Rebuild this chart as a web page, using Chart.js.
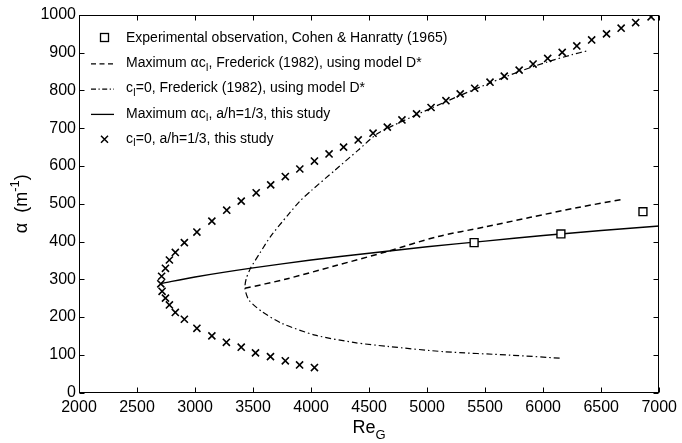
<!DOCTYPE html>
<html>
<head>
<meta charset="utf-8">
<script src="https://cdn.jsdelivr.net/npm/chart.js@4"></script>
<style>
  html, body { margin: 0; padding: 0; background: #fff; }
</style>
</head>
<body>
<canvas id="alphachart" width="682" height="443"></canvas>
<script>
// Experimental observation, Cohen & Hanratty (1965)
const expRe = [5405, 6153, 6860];
const expAlpha = [397, 420, 479];

// Maximum alpha*ci, Frederick (1982), model D*
const fredMaxRe = [3430, 3778, 4200, 4650, 5091, 5490, 5890, 6300, 6689];
const fredMaxAlpha = [276, 300, 335, 373, 413, 438, 464, 490, 512];

// ci = 0, Frederick (1982), model D*  (lower branch, apex, upper branch)
const fredZeroRe = [6142, 5718, 5148, 4663, 4378, 4035, 3749, 3578, 3464, 3430,
  3440, 3478, 3560, 3650, 3800, 3907, 4006, 4206, 4406, 4577, 4783, 5034, 5285,
  5542, 5793, 6039, 6250, 6380];
const fredZeroAlpha = [91, 99, 108, 122, 132, 152, 183, 214, 245, 275,
  300, 329, 370, 413, 470, 508, 536, 589, 642, 687, 718, 753, 787,
  820, 850, 876, 895, 905];

// Maximum alpha*ci, a/h = 1/3, this study
const studyMaxRe = [2708, 3000, 3500, 4000, 4500, 5000, 5500, 6000, 6500, 7000];
const studyMaxAlpha = [289, 306, 330, 351, 369, 386, 401, 416, 429, 441];

// ci = 0, a/h = 1/3, this study
const studyZeroRe = [4029, 3901, 3778, 3650, 3521, 3398, 3270, 3145, 3016, 2908,
  2830, 2779, 2745, 2716, 2705, 2712, 2745, 2779, 2830, 2908, 3016, 3145, 3273,
  3398, 3527, 3652, 3778, 3903, 4029, 4155, 4280, 4406, 4534, 4657, 4783, 4909,
  5034, 5162, 5285, 5410, 5542, 5665, 5793, 5913, 6039, 6164, 6290, 6418, 6546,
  6672, 6797, 6930];
const studyZeroAlpha = [66, 73, 84, 95, 105, 120, 133, 150, 170, 194,
  212, 232, 250, 268, 288, 308, 329, 351, 371, 397, 425, 454, 483,
  507, 529, 550, 572, 592, 613, 632, 650, 669, 687, 703, 722, 738,
  755, 773, 791, 806, 822, 838, 854, 870, 885, 901, 918, 934, 950,
  965, 980, 995];

const xTicks = [2000, 2500, 3000, 3500, 4000, 4500, 5000, 5500, 6000, 6500, 7000];
const yTicks = [0, 100, 200, 300, 400, 500, 600, 700, 800, 900, 1000];

const FONT = '"Liberation Sans", Arial, sans-serif';

function pts(xs, ys) {
  return xs.map((v, i) => ({ x: v, y: ys[i] }));
}

// legend rows: symbol kind + text pieces (sub = subscript)
const legendRows = [
  { sym: 'square', parts: [['Experimental observation, Cohen & Hanratty (1965)']] },
  { sym: 'dash', parts: [['Maximum \u03B1c'], ['I', 'sub'], [', Frederick (1982), using model D*']] },
  { sym: 'dashdot', parts: [['c'], ['I', 'sub'], ['=0, Frederick (1982), using model D*']] },
  { sym: 'solid', parts: [['Maximum \u03B1c'], ['I', 'sub'], [', a/h=1/3, this study']] },
  { sym: 'cross', parts: [['c'], ['I', 'sub'], ['=0, a/h=1/3, this study']] },
];

function drawRich(ctx, parts, x, y, size, subSize) {
  let cx = x;
  parts.forEach(([t, kind]) => {
    if (kind === 'sub') {
      ctx.font = subSize + 'px ' + FONT;
      ctx.fillText(t, cx, y + size * 0.32);
    } else if (kind === 'sup') {
      ctx.font = subSize + 'px ' + FONT;
      ctx.fillText(t, cx, y - size * 0.45);
    } else {
      ctx.font = size + 'px ' + FONT;
      ctx.fillText(t, cx, y);
    }
    cx += ctx.measureText(t).width;
  });
  return cx - x;
}

function richWidth(ctx, parts, size, subSize) {
  let w = 0;
  parts.forEach(([t, kind]) => {
    ctx.font = (kind ? subSize : size) + 'px ' + FONT;
    w += ctx.measureText(t).width;
  });
  return w;
}

const framePlugin = {
  id: 'frame',
  afterDraw(chart) {
    const { ctx, chartArea: a, scales: { x, y } } = chart;
    ctx.save();
    ctx.strokeStyle = '#000';
    ctx.fillStyle = '#000';
    ctx.lineWidth = 1;
    ctx.setLineDash([]);

    // box with inward ticks on all four sides
    const L = Math.round(a.left) + 0.5, R = Math.round(a.right) - 0.5;
    const T = Math.round(a.top) + 0.5, B = Math.round(a.bottom) - 0.5;
    ctx.strokeRect(L, T, R - L, B - T);
    ctx.beginPath();
    xTicks.forEach(v => {
      const px = Math.round(x.getPixelForValue(v)) + 0.5;
      ctx.moveTo(px, B); ctx.lineTo(px, B - 5);
      ctx.moveTo(px, T); ctx.lineTo(px, T + 5);
    });
    yTicks.forEach(v => {
      const py = Math.round(y.getPixelForValue(v)) + 0.5;
      ctx.moveTo(L, py); ctx.lineTo(L + 5, py);
      ctx.moveTo(R, py); ctx.lineTo(R - 5, py);
    });
    ctx.stroke();

    // axis titles
    ctx.textBaseline = 'alphabetic';
    ctx.textAlign = 'left';
    const xt = [['Re'], ['G', 'sub']];
    const xw = richWidth(ctx, xt, 18, 13);
    drawRich(ctx, xt, (a.left + a.right) / 2 - xw / 2, 433, 18, 13);

    const yt = [['\u03B1  (m'], ['-1', 'sup'], [')']];
    const yw = richWidth(ctx, yt, 18, 13);
    ctx.save();
    ctx.translate(27, (a.top + a.bottom) / 2);
    ctx.rotate(-Math.PI / 2);
    drawRich(ctx, yt, -yw / 2, 0, 18, 13);
    ctx.restore();

    // legend
    legendRows.forEach((row, i) => {
      const ry = 38 + i * 25.3;
      ctx.save();
      ctx.lineWidth = 1.3;
      ctx.beginPath();
      if (row.sym === 'square') {
        ctx.strokeRect(100.5, ry - 4.5, 8, 8);
      } else if (row.sym === 'cross') {
        ctx.lineWidth = 1.5;
        ctx.moveTo(101, ry - 3.5); ctx.lineTo(108, ry + 3.5);
        ctx.moveTo(108, ry - 3.5); ctx.lineTo(101, ry + 3.5);
        ctx.stroke();
      } else {
        if (row.sym === 'dash') ctx.setLineDash([5, 3.5]);
        if (row.sym === 'dashdot') { ctx.setLineDash([5, 2.5, 1.2, 2.5]); ctx.lineWidth = 1.1; }
        ctx.moveTo(91, ry + 0.5); ctx.lineTo(114, ry + 0.5);
        ctx.stroke();
      }
      ctx.restore();
      ctx.textBaseline = 'middle';
      drawRich(ctx, row.parts, 126, ry, 14, 10);
    });
    ctx.restore();
  }
};

const ctx = document.getElementById('alphachart').getContext('2d');

const alphachart = new Chart(ctx, {
  type: 'scatter',
  data: {
    datasets: [{
      label: 'Experimental observation, Cohen & Hanratty (1965)',
      data: pts(expRe, expAlpha),
      pointStyle: 'rect',
      pointRadius: 5.6,
      borderColor: '#000',
      backgroundColor: '#fff',
      borderWidth: 1.4,
      showLine: false,
    }, {
      label: 'Maximum \u03B1ci, a/h=1/3, this study',
      data: pts(studyMaxRe, studyMaxAlpha),
      showLine: true,
      borderColor: '#000',
      borderWidth: 1.4,
      pointRadius: 0,
      tension: 0.3,
    }, {
      label: 'Maximum \u03B1ci, Frederick (1982), using model D*',
      data: pts(fredMaxRe, fredMaxAlpha),
      showLine: true,
      borderColor: '#000',
      borderWidth: 1.5,
      borderDash: [6, 4],
      pointRadius: 0,
      tension: 0.3,
    }, {
      label: 'ci=0, Frederick (1982), using model D*',
      data: pts(fredZeroRe, fredZeroAlpha),
      showLine: true,
      borderColor: '#000',
      borderWidth: 1.2,
      borderDash: [6, 3, 1.5, 3],
      pointRadius: 0,
      tension: 0.25,
    }, {
      label: 'ci=0, a/h=1/3, this study',
      data: pts(studyZeroRe, studyZeroAlpha),
      pointStyle: 'crossRot',
      pointRadius: 5,
      borderColor: '#000',
      borderWidth: 1.6,
      showLine: false,
    }]
  },
  options: {
    responsive: false,
    animation: false,
    devicePixelRatio: 1,
    events: [],
    layout: { padding: { top: 15, right: 19, left: 0, bottom: 0 } },
    plugins: { legend: { display: false }, tooltip: { enabled: false } },
    scales: {
      x: {
        type: 'linear',
        min: 2000,
        max: 7000,
        afterBuildTicks: s => { s.ticks = xTicks.map(v => ({ value: v })); },
        afterFit: s => { s.height = 50.5; },
        grid: { display: false, drawTicks: false },
        border: { display: false },
        ticks: {
          color: '#000',
          font: { family: FONT, size: 16 },
          padding: 5,
          maxRotation: 0,
          autoSkip: false,
          callback: v => String(v),
        },
      },
      y: {
        type: 'linear',
        min: 0,
        max: 1000,
        afterBuildTicks: s => { s.ticks = yTicks.map(v => ({ value: v })); },
        afterFit: s => { s.width = 79; },
        grid: { display: false, drawTicks: false },
        border: { display: false },
        ticks: {
          color: '#000',
          font: { family: FONT, size: 16 },
          padding: 3,
          autoSkip: false,
          callback: v => String(v),
        },
      },
    },
  },
  plugins: [framePlugin],
});
</script>
</body>
</html>
